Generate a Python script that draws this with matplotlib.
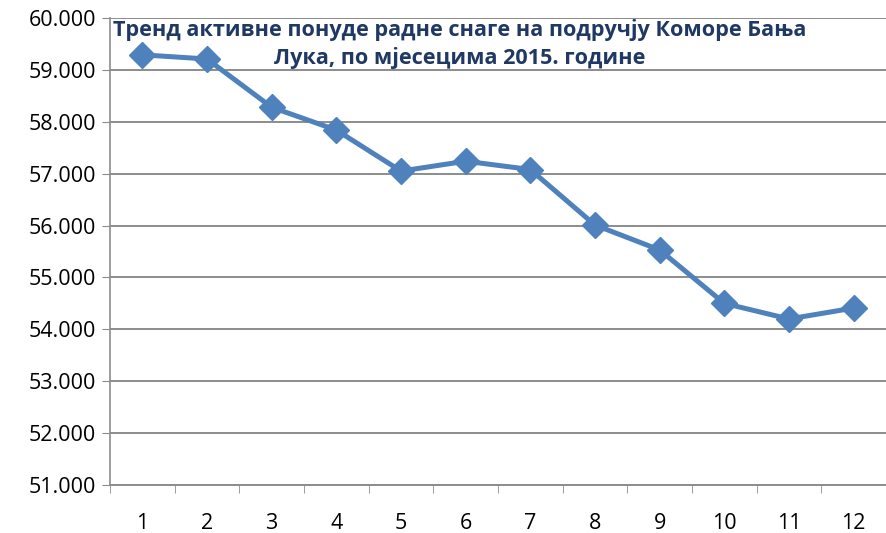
import matplotlib.pyplot as plt
from matplotlib.ticker import FuncFormatter

months = [1, 2, 3, 4, 5, 6, 7, 8, 9, 10, 11, 12]
labor_supply = [59290, 59210, 58280, 57840, 57050, 57240,
                57080, 56010, 55530, 54500, 54200, 54410]
title = 'Тренд активне понуде радне снаге на подручју Коморе Бања\nЛука, по мјесецима 2015. године'

plt.rcParams['font.family'] = ['Open Sans', 'DejaVu Sans']

fig = plt.figure(figsize=(8.86, 5.33), dpi=100)
ax = fig.add_axes([110 / 886, 48 / 533, 776 / 886, 467 / 533])

x = list(range(len(months)))
ax.plot(x, labor_supply, color='#4F81BD', linewidth=3.6, marker='D',
        markersize=13, markerfacecolor='#4F81BD', markeredgecolor='#4F81BD',
        zorder=3, clip_on=False)

ax.set_xlim(-0.5, len(months) - 0.5)
ax.set_ylim(51000, 60000)
ax.set_yticks(range(51000, 60001, 1000))
ax.yaxis.set_major_formatter(FuncFormatter(lambda v, p: f'{int(v):,}'.replace(',', '.')))
ax.set_xticks(x)
ax.set_xticklabels([str(m) for m in months])
ax.set_xticks([i - 0.5 for i in range(len(months) + 1)], minor=True)

ax.grid(axis='y', color='#8C8C8C', linewidth=1.4)
ax.set_axisbelow(True)
for s in ['top', 'right']:
    ax.spines[s].set_visible(False)
ax.spines['left'].set_color('#8C8C8C')
ax.spines['bottom'].set_color('#8C8C8C')
ax.spines['left'].set_linewidth(1.2)
ax.spines['bottom'].set_linewidth(1.4)

ax.tick_params(axis='y', labelsize=15.5, length=6, color='#8C8C8C', pad=4)
ax.tick_params(axis='x', which='major', length=0, labelsize=15.5, pad=20)
ax.tick_params(axis='x', which='minor', length=6, color='#8C8C8C')

fig.text(460 / 886, 1 - 44 / 533, title, ha='center', va='center',
         fontsize=15.6, fontweight='bold', color='#1F3864', linespacing=1.3)

fig.savefig('out.png', dpi=100)
